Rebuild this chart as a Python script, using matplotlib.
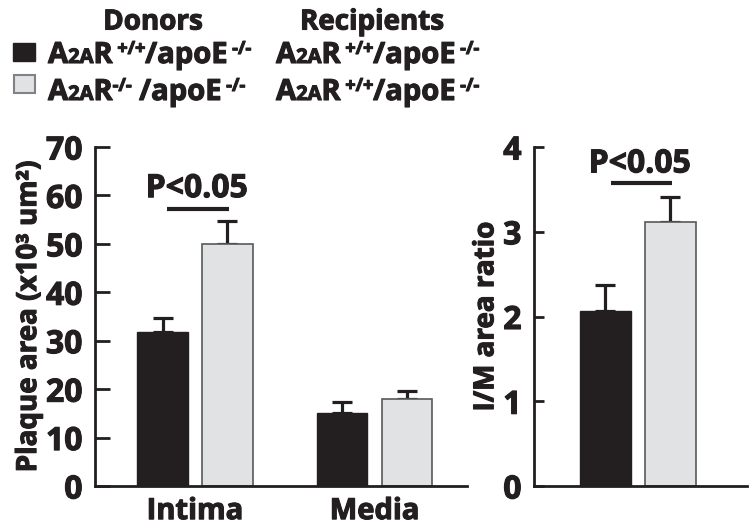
import matplotlib
matplotlib.use("Agg")
import matplotlib.pyplot as plt
import matplotlib.patheffects as pe
from matplotlib.text import Text

plt.rcParams['font.family'] = ['Open Sans', 'DejaVu Sans']
plt.rcParams['font.weight'] = 'bold'
plt.rcParams['axes.labelweight'] = 'bold'

# data
regions = ["Intima", "Media"]
donor_wt = [31.8, 15.0]
donor_wt_err = [2.9, 2.4]
donor_ko = [50.0, 18.0]
donor_ko_err = [4.8, 1.7]
ratio_vals = [2.07, 3.11]
ratio_err = [0.30, 0.30]
p_text = "P<0.05"

INK = '#231f20'
GRAY = '#e1e2e4'
EDGE = '#58595b'
W, H = 754, 529

fig = plt.figure(figsize=(W / 100, H / 100), dpi=100)

def px_axes(x0, y0, x1, y1):
    return fig.add_axes([x0 / W, 1 - y1 / H, (x1 - x0) / W, (y1 - y0) / H])

def style(ax, tick_len):
    for s in ['top', 'right']:
        ax.spines[s].set_visible(False)
    for s in ['left', 'bottom']:
        ax.spines[s].set_linewidth(2.0)
        ax.spines[s].set_color(INK)
    ax.tick_params(axis='y', direction='in', length=tick_len, width=2.0, color=INK,
                   labelsize=23, labelcolor=INK, pad=9)
    ax.tick_params(axis='x', length=0, labelsize=21, labelcolor=INK, pad=8)

bw = 0.279
off = 0.181
err_kw = dict(ecolor=INK, elinewidth=2.3, capsize=7.5, capthick=2.3)

# left panel
ax1 = px_axes(95, 147, 467, 486)
x = list(range(len(regions)))
ax1.bar([i - off for i in x], donor_wt, bw, color=INK, edgecolor=INK, linewidth=1, zorder=2)
ax1.bar([i + off for i in x], donor_ko, bw, color=GRAY, edgecolor=EDGE, linewidth=1.2, zorder=2)
ax1.errorbar([i - off for i in x], donor_wt, yerr=[[0] * 2, donor_wt_err], fmt='none', zorder=1, **err_kw)
ax1.errorbar([i + off for i in x], donor_ko, yerr=[[0] * 2, donor_ko_err], fmt='none', zorder=1, **err_kw)
ax1.set_xlim(-0.557, 1.515)
ax1.set_ylim(0, 70)
ax1.set_yticks(range(0, 71, 10))
ax1.set_xticks(x)
ax1.set_xticklabels(regions)
ax1.set_ylabel("Plaque area (x10³ um²)", fontsize=20, color=INK, labelpad=2)
style(ax1, 11)
ax1.plot([-0.155, 0.19], [57.2, 57.2], color=INK, lw=3.0, clip_on=False, solid_capstyle='butt')
ax1.text(0.01, 61.4, p_text, ha='center', va='center', fontsize=23, color=INK)

# right panel
ax2 = px_axes(534, 147, 747, 486)
ax2.bar([-off], [ratio_vals[0]], bw, color=INK, edgecolor=INK, linewidth=1, zorder=2)
ax2.bar([off], [ratio_vals[1]], bw, color=GRAY, edgecolor=EDGE, linewidth=1.2, zorder=2)
ax2.errorbar([-off, off], ratio_vals, yerr=[[0, 0], ratio_err], fmt='none', zorder=1, **err_kw)
ax2.set_xlim(-0.579, 0.607)
ax2.set_ylim(0, 4)
ax2.set_yticks(range(0, 5))
ax2.set_xticks([])
ax2.set_ylabel("I/M area ratio", fontsize=20, color=INK, labelpad=2)
style(ax2, 7)
ax2.plot([-0.15, 0.19], [3.575, 3.575], color=INK, lw=3.0, clip_on=False, solid_capstyle='butt')
ax2.text(0.01, 3.80, p_text, ha='center', va='center', fontsize=23, color=INK)

# legend block drawn as pieces of text
fig.canvas.draw()
renderer = fig.canvas.get_renderer()

def rich(x, y, parts):
    for s, size, dy in parts:
        t = fig.text(x / W, 1 - (y - dy) / H, s, fontsize=size, color=INK,
                     ha='left', va='baseline')
        x += t.get_window_extent(renderer).width

wt = [("A", 21, 0), ("2A", 14.5, 0), ("R", 21, 0), (" +/+", 13, 9), ("/apoE", 21, 0), (" -/-", 13, 9)]
ko = [("A", 21, 0), ("2A", 14.5, 0), ("R", 21, 0), ("-/-", 13, 9), (" /apoE", 21, 0), (" -/-", 13, 9)]

fig.text(153 / W, 1 - 22 / H, "Donors", fontsize=20, color=INK, ha='center', va='center')
fig.text(372 / W, 1 - 22 / H, "Recipients", fontsize=20, color=INK, ha='center', va='center')
fig.patches.append(plt.Rectangle((13 / W, 1 - 61 / H), 22 / W, 18 / H, transform=fig.transFigure,
                                 facecolor=INK, edgecolor=INK, lw=1))
fig.patches.append(plt.Rectangle((14 / W, 1 - 93 / H), 21 / W, 18 / H, transform=fig.transFigure,
                                 facecolor=GRAY, edgecolor='#808285', lw=1.5))
rich(48, 63, wt)
rich(48, 100, ko)
rich(276, 63, wt)
rich(276, 100, wt)

# thicken all text a little, the source font is heavier than Open Sans Bold
for t in fig.findobj(Text):
    t.set_path_effects([pe.withStroke(linewidth=0.8, foreground=INK)])

fig.savefig("out.png", dpi=100)
